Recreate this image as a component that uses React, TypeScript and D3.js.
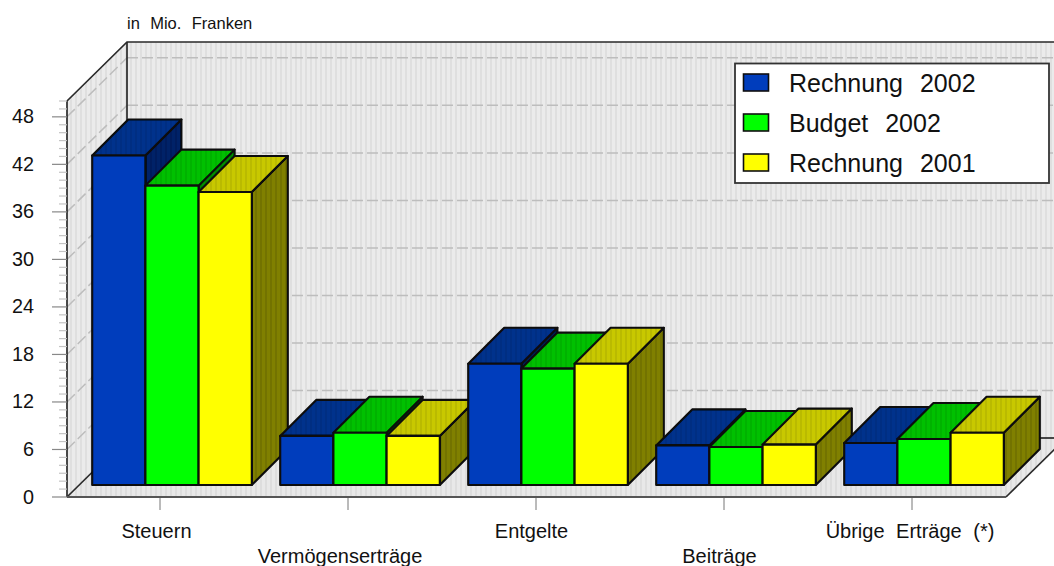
import React from "react";
import * as d3 from "d3";

const categories = ["Steuern", "Vermögenserträge", "Entgelte", "Beiträge", "Übrige Erträge (*)"];
const seriesNames = ["Rechnung 2002", "Budget 2002", "Rechnung 2001"];
const rechnung2002 = [41.6, 6.2, 15.3, 5.0, 5.3];
const budget2002 = [37.8, 6.6, 14.7, 4.8, 5.8];
const rechnung2001 = [37.0, 6.2, 15.3, 5.1, 6.6];
const seriesValues = [rechnung2002, budget2002, rechnung2001];
const frontColors = ["#003cbc", "#00ff00", "#ffff00"];
const topColors = ["#00308c", "#00c000", "#c8c800"];
const sideColors = ["#002068", "#009000", "#808000"];
const majorTicks = [0, 6, 12, 18, 24, 30, 36, 42, 48];
const minorTicks = d3.range(0, 51);

const W = 1054;
const H = 566;
const FONT = "'Liberation Sans', Arial, sans-serif";
const wallDx = 60;
const wallDy = 59;
const barDepth = 36;
const barInset = 12;
const barW = 53.2;

const x = d3.scaleBand<string>().domain(categories).range([66, 1006]);
const y = d3.scaleLinear().domain([0, 50]).range([497, 101]);
const pts = (p: number[][]) => p.map((d) => d.join(",")).join(" ");

const Stripes = ({ id, base, line, op = 1 }: any) => (
  <pattern id={id} width={5} height={4} patternUnits="userSpaceOnUse">
    <rect width={5} height={4} fill={base} />
    <rect width={2} height={4} fill={line} opacity={op} />
  </pattern>
);

export default function App() {
  const x0 = x.range()[0] + 1;
  const xEnd = x.range()[1];
  const y0 = y(0);
  const yTop = y(50);
  const backL = x0 + wallDx;
  const backR = xEnd + wallDx;
  const backB = y0 - wallDy;
  const backT = yTop - wallDy;
  return (
    <svg
      width={W}
      height={H}
      viewBox={`0 0 ${W} ${H}`}
      style={{ position: "absolute", left: 0, top: 0, display: "block", background: "#fff" }}
    >
      <defs>
        <Stripes id="wall" base="#ebebeb" line="#dfdfdf" />
        <Stripes id="floor" base="#e8e8e8" line="#dddddd" />
        {frontColors.map((c, i) => (
          <Stripes key={i} id={`top${i}`} base={topColors[i]} line="#000" op={0.07} />
        ))}
        {frontColors.map((c, i) => (
          <Stripes key={i} id={`side${i}`} base={sideColors[i]} line="#000" op={0.1} />
        ))}
        <filter id="soft" x="-2%" y="-2%" width="104%" height="104%">
          <feGaussianBlur stdDeviation="0.45" />
        </filter>
      </defs>

      <g filter="url(#soft)">
        <polygon points={pts([[backL, backT], [backR, backT], [backR, backB], [backL, backB]])} fill="url(#wall)" />
        <polygon points={pts([[x0, yTop], [backL, backT], [backL, backB], [x0, y0]])} fill="url(#wall)" />
        <polygon points={pts([[x0, y0], [xEnd, y0], [backR, backB], [backL, backB]])} fill="url(#floor)" />

        {majorTicks.filter((t) => t > 0).map((t) => (
          <g key={t} stroke="#bdbdbd" strokeWidth={1.5} strokeDasharray="11 4" fill="none">
            <line x1={backL} x2={backR} y1={y(t) - wallDy} y2={y(t) - wallDy} />
            <line x1={x0} x2={backL} y1={y(t)} y2={y(t) - wallDy} />
          </g>
        ))}

        <g stroke="#2a2a2a" strokeWidth={1.7} fill="none">
          <polyline points={pts([[x0, y0], [x0, yTop], [backL, backT], [backR, backT]])} />
          <line x1={backL} x2={backL} y1={backT} y2={backB} />
          <line x1={x0} x2={backL} y1={y0} y2={backB} />
          <line x1={xEnd} x2={backR} y1={y0} y2={backB} />
          <line x1={xEnd + wallDx * 0.55} x2={backR} y1={backB} y2={backB} />
        </g>
        <line x1={x0} x2={xEnd} y1={y0} y2={y0} stroke="#555" strokeWidth={2.2} />

        {minorTicks.map((t) => (
          <line
            key={t}
            x1={majorTicks.includes(t) ? x0 - 15 : x0 - 8}
            x2={x0}
            y1={y(t)}
            y2={y(t)}
            stroke={majorTicks.includes(t) ? "#888" : "#c4c4c4"}
            strokeWidth={1.2}
          />
        ))}

        {categories.map((c) => {
          const cx = (x(c) as number) + x.bandwidth() / 2;
          return <line key={c} x1={cx} x2={cx} y1={y0 + 1} y2={y0 + 13} stroke="#777" strokeWidth={1} />;
        })}

        {categories.map((c, ci) => {
          const cx = (x(c) as number) + x.bandwidth() / 2 + barInset;
          const left = cx - (barW * seriesValues.length) / 2;
          return (
            <g key={c}>
              {seriesValues.map((vals, si) => {
                const xl = left + si * barW;
                const xr = xl + barW;
                const b = y0 - barInset;
                const t = y(vals[ci]) - barInset;
                return (
                  <g key={si} stroke="#0a0a0a" strokeWidth={2.1} strokeLinejoin="round">
                    <polygon
                      points={pts([[xr, t], [xr + barDepth, t - barDepth], [xr + barDepth, b - barDepth], [xr, b]])}
                      fill={`url(#side${si})`}
                    />
                    <polygon
                      points={pts([[xl, t], [xl + barDepth, t - barDepth], [xr + barDepth, t - barDepth], [xr, t]])}
                      fill={`url(#top${si})`}
                    />
                    <rect x={xl} y={t} width={barW} height={b - t} fill={frontColors[si]} />
                  </g>
                );
              })}
            </g>
          );
        })}
      </g>

      <g filter="url(#soft)">
        <rect x={735} y={63.5} width={314} height={119.5} fill="#fff" stroke="#333" strokeWidth={1.8} />
        {seriesNames.map((n, i) => (
          <rect
            key={n}
            x={743.5}
            y={74 + i * 40}
            width={25}
            height={17}
            fill={frontColors[i]}
            stroke="#111"
            strokeWidth={1.6}
          />
        ))}
      </g>
      <g fontFamily={FONT} fill="#111">
        {seriesNames.map((n, i) => (
          <text key={n} x={789} y={92 + i * 40} fontSize={25} style={{ wordSpacing: "0.4em" }}>
            {n}
          </text>
        ))}
        <text x={127} y={29} fontSize={16.5} style={{ wordSpacing: "0.35em" }}>
          in Mio. Franken
        </text>
        {majorTicks.map((t) => (
          <text key={t} x={34} y={y(t) + 6.5} fontSize={19.8} textAnchor="end">
            {t}
          </text>
        ))}
        {categories.map((c, i) => (
          <text
            key={c}
            x={(x(c) as number) + x.bandwidth() / 2 - (i === 1 ? 8 : i === 4 ? 2 : i === 0 ? 3.5 : 4.5)}
            y={i % 2 === 0 ? 538 : 563}
            fontSize={20}
            textAnchor="middle"
            style={{ wordSpacing: "0.3em" }}
          >
            {c}
          </text>
        ))}
      </g>
    </svg>
  );
}
